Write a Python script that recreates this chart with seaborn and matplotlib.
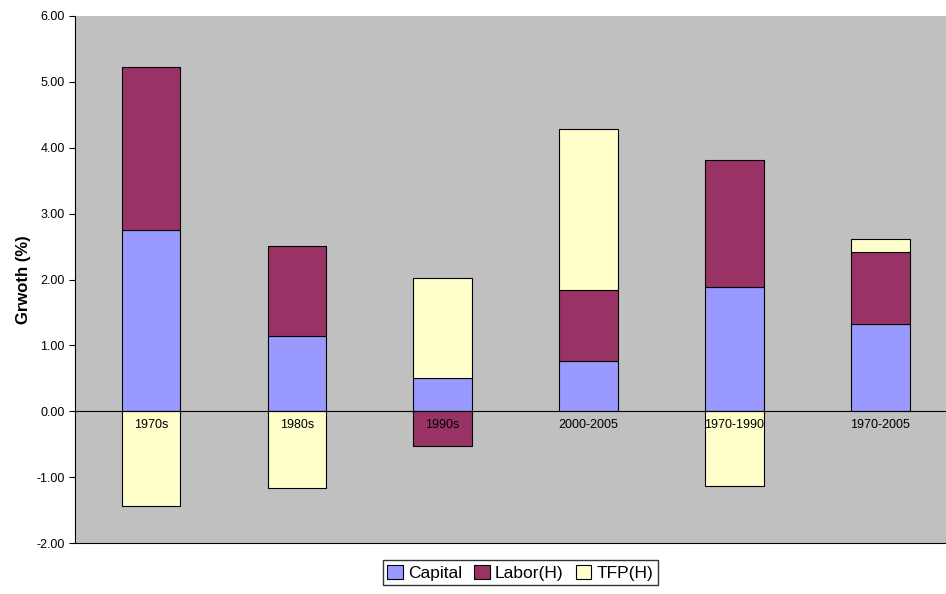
import numpy as np
import matplotlib
matplotlib.use("Agg")
import matplotlib.pyplot as plt
import seaborn as sns

categories = ["1970s", "1980s", "1990s", "2000-2005", "1970-1990", "1970-2005"]
capital = [2.75, 1.14, 0.51, 0.77, 1.89, 1.33]
labor = [2.48, 1.37, -0.52, 1.07, 1.92, 1.09]
tfp = [-1.44, -1.16, 1.51, 2.45, -1.14, 0.20]

sns.set_style("white")
plt.rcParams['font.family'] = ['Liberation Sans', 'DejaVu Sans']
plt.rcParams['text.color'] = 'black'
plt.rcParams['ytick.color'] = 'black'
plt.rcParams['axes.labelcolor'] = 'black'

fig = plt.figure(figsize=(9.46, 5.94), dpi=100)
ax = fig.add_axes([75 / 946, 51 / 594, 871 / 946, 527 / 594])
ax.set_facecolor("#C0C0C0")

x = np.arange(len(categories))
pos_bottom = np.zeros(len(categories))
neg_bottom = np.zeros(len(categories))
series = [("Capital", capital, "#9999FF"), ("Labor(H)", labor, "#993366"), ("TFP(H)", tfp, "#FFFFCC")]
for name, vals, color in series:
    vals = np.array(vals)
    bottom = np.where(vals >= 0, pos_bottom, neg_bottom)
    ax.bar(x, vals, bottom=bottom, width=0.4, color=color, edgecolor="black", linewidth=0.8, label=name)
    pos_bottom = pos_bottom + np.where(vals >= 0, vals, 0)
    neg_bottom = neg_bottom + np.where(vals < 0, vals, 0)

ax.axhline(0, color="black", linewidth=0.8)
for xi, c in zip(x, categories):
    ax.text(xi, -0.12, c, ha="center", va="top", fontsize=9, zorder=5)

ax.set_xlim(-0.52, 5.45)
ax.set_ylim(-2, 6)
ax.set_xticks([])
ax.set_yticks(np.arange(-2, 6.01, 1))
ax.set_yticklabels([f"{v:.2f}" for v in np.arange(-2, 6.01, 1)], fontsize=9)
ax.tick_params(axis="y", length=4, direction="out", left=True, colors="black")
for side in ["top", "right"]:
    ax.spines[side].set_visible(False)
ax.spines["left"].set_color("black")
ax.spines["bottom"].set_color("black")
ax.set_ylabel("Grwoth (%)", fontsize=12, fontweight="bold")

leg = fig.legend(loc="lower center", bbox_to_anchor=(0.55, 0.0), ncol=3, frameon=True, fancybox=False,
                 edgecolor="black", fontsize=12.5, handlelength=0.9, handleheight=0.9,
                 handletextpad=0.3, columnspacing=0.7, borderpad=0.25)

fig.savefig("out.png", dpi=100)
